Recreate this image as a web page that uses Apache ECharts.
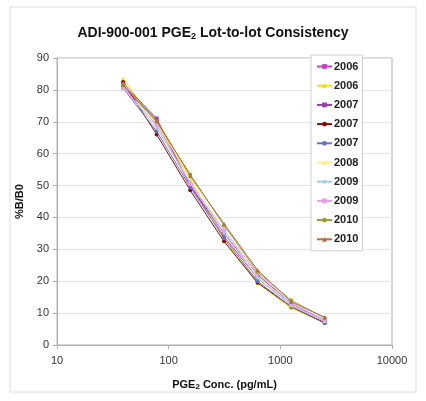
<!DOCTYPE html>
<html>
<head>
    <meta charset="utf-8">
    <title>PGE2 Lot-to-lot</title>
    <script src="https://cdn.jsdelivr.net/npm/echarts@6/dist/echarts.min.js"></script>
    <style>
        html, body { margin: 0; padding: 0; background: #fff; }
        #chart1 { width: 426px; height: 401px; }
    </style>
</head>
<body>
<div id="chart1"></div>
<script>
    // 浓度 (pg/mL)
    var concs = [39.1, 78.1, 156, 313, 625, 1250, 2500];
    var lots = ['2006', '2006', '2007', '2007', '2007', '2008', '2009', '2009', '2010', '2010'];

    // %B/B0 每个批次
    var lot1 = [81, 70, 50, 34, 21, 12.5, 7.5];
    var lot2 = [83.5, 69, 52, 33, 19.5, 11.5, 7];
    var lot3 = [82, 71, 50, 35, 22, 13, 7.5];
    var lot4 = [82.5, 66, 48.5, 32.5, 19.5, 12, 7];
    var lot5 = [80.5, 67, 49.5, 33.5, 20, 12, 6.8];
    var lot6 = [82, 69.5, 52.5, 36, 21.5, 12.5, 7.5];
    var lot7 = [81, 68, 51, 35, 21, 12.5, 7.5];
    var lot8 = [80.5, 69, 50.5, 36, 22.5, 13, 8];
    var lot9 = [81.5, 70, 53.5, 37.5, 23, 14, 8.5];
    var lot10 = [81.5, 70.5, 53, 38, 23.5, 13.5, 8.7];

    var yTicks = [0, 10, 20, 30, 40, 50, 60, 70, 80, 90];
    var xTicks = [10, 100, 1000, 10000];

    var allLots = [lot1, lot2, lot3, lot4, lot5, lot6, lot7, lot8, lot9, lot10];
    var colors = ['#c040c0', '#f5e400', '#9a3fa8', '#8a0a0a', '#6b6fc0',
                  '#f8f08a', '#9fcdf0', '#e8a0e8', '#9a9a30', '#b07040'];
    var symbols = ['rect', 'triangle', 'rect', 'circle', 'circle',
                   'triangle', 'diamond', 'rect', 'circle', 'triangle'];

    var series = allLots.map(function (vals, i) {
        return {
            name: lots[i] + ' '.repeat(i),   // 名称重复时区分
            type: 'line',
            data: vals.map(function (v, j) { return [concs[j], v]; }),
            symbol: symbols[i],
            symbolSize: 4,
            lineStyle: { width: 1, color: colors[i] },
            itemStyle: { color: colors[i] },
            z: 2 + i
        };
    });

    var myChart1 = echarts.init(document.getElementById('chart1'));
    myChart1.setOption({
        animation: false,
        backgroundColor: '#fff',
        graphic: [{
            type: 'rect',
            shape: { x: 10, y: 7, width: 406, height: 385 },
            style: { fill: 'none', stroke: '#dcdcdc', lineWidth: 1 },
            z: -1
        }],
        title: {
            text: '{a|ADI-900-001 PGE}{s|2}{a| Lot-to-lot Consistency}',
            left: 'center',
            top: 20,
            textStyle: {
                rich: {
                    a: { fontFamily: 'Liberation Sans', fontWeight: 'bold', fontSize: 14, color: '#111' },
                    s: { fontFamily: 'Liberation Sans', fontWeight: 'bold', fontSize: 9, color: '#111', padding: [7, 0, 0, 0] }
                }
            }
        },
        grid: {
            left: 57, right: 34, top: 58, bottom: 56,
            show: true, borderColor: '#b0b0b0', borderWidth: 1
        },
        legend: {
            orient: 'vertical',
            left: 311, top: 55,
            itemWidth: 15, itemHeight: 6, itemGap: 8.2,
            padding: [6, 4, 6, 5],
            backgroundColor: '#fff',
            borderColor: '#cfcfcf', borderWidth: 1,
            formatter: function (n) { return n.trim(); },
            textStyle: { fontFamily: 'Liberation Sans', fontWeight: 'bold', fontSize: 11, color: '#222', padding: [0, 0, 0, -3] },
            data: series.map(function (s) { return s.name; })
        },
        xAxis: {
            type: 'log', logBase: 10, min: xTicks[0], max: xTicks[xTicks.length - 1],
            name: '{a|PGE}{s|2}{a| Conc. (pg/mL)}',
            nameLocation: 'middle', nameGap: 33,
            nameTextStyle: {
                rich: {
                    a: { fontFamily: 'Liberation Sans', fontWeight: 'bold', fontSize: 11, color: '#111' },
                    s: { fontFamily: 'Liberation Sans', fontWeight: 'bold', fontSize: 8, color: '#111', padding: [5, 0, 0, 0] }
                }
            },
            axisLine: { lineStyle: { color: '#b0b0b0' } },
            axisTick: { show: true, inside: false, length: 4, lineStyle: { color: '#b0b0b0' } },
            axisLabel: {
                fontFamily: 'Liberation Sans', fontSize: 11, color: '#333', margin: 10,
                formatter: function (v) { return String(Math.round(v)); }
            },
            splitLine: { show: false },
            minorTick: { show: false }
        },
        yAxis: {
            type: 'value', min: yTicks[0], max: yTicks[yTicks.length - 1], interval: 10,
            name: '%B/B0',
            nameLocation: 'middle', nameGap: 31, nameRotate: 90,
            nameTextStyle: { fontFamily: 'Liberation Sans', fontWeight: 'bold', fontSize: 11, color: '#111' },
            axisLine: { show: true, lineStyle: { color: '#b0b0b0' } },
            axisTick: { show: true, length: 4, lineStyle: { color: '#b0b0b0' } },
            axisLabel: { fontFamily: 'Liberation Sans', fontSize: 11, color: '#333', margin: 8 },
            splitLine: { show: true, lineStyle: { color: '#e6e6e6' } }
        },
        series: series
    });
</script>
</body>
</html>
